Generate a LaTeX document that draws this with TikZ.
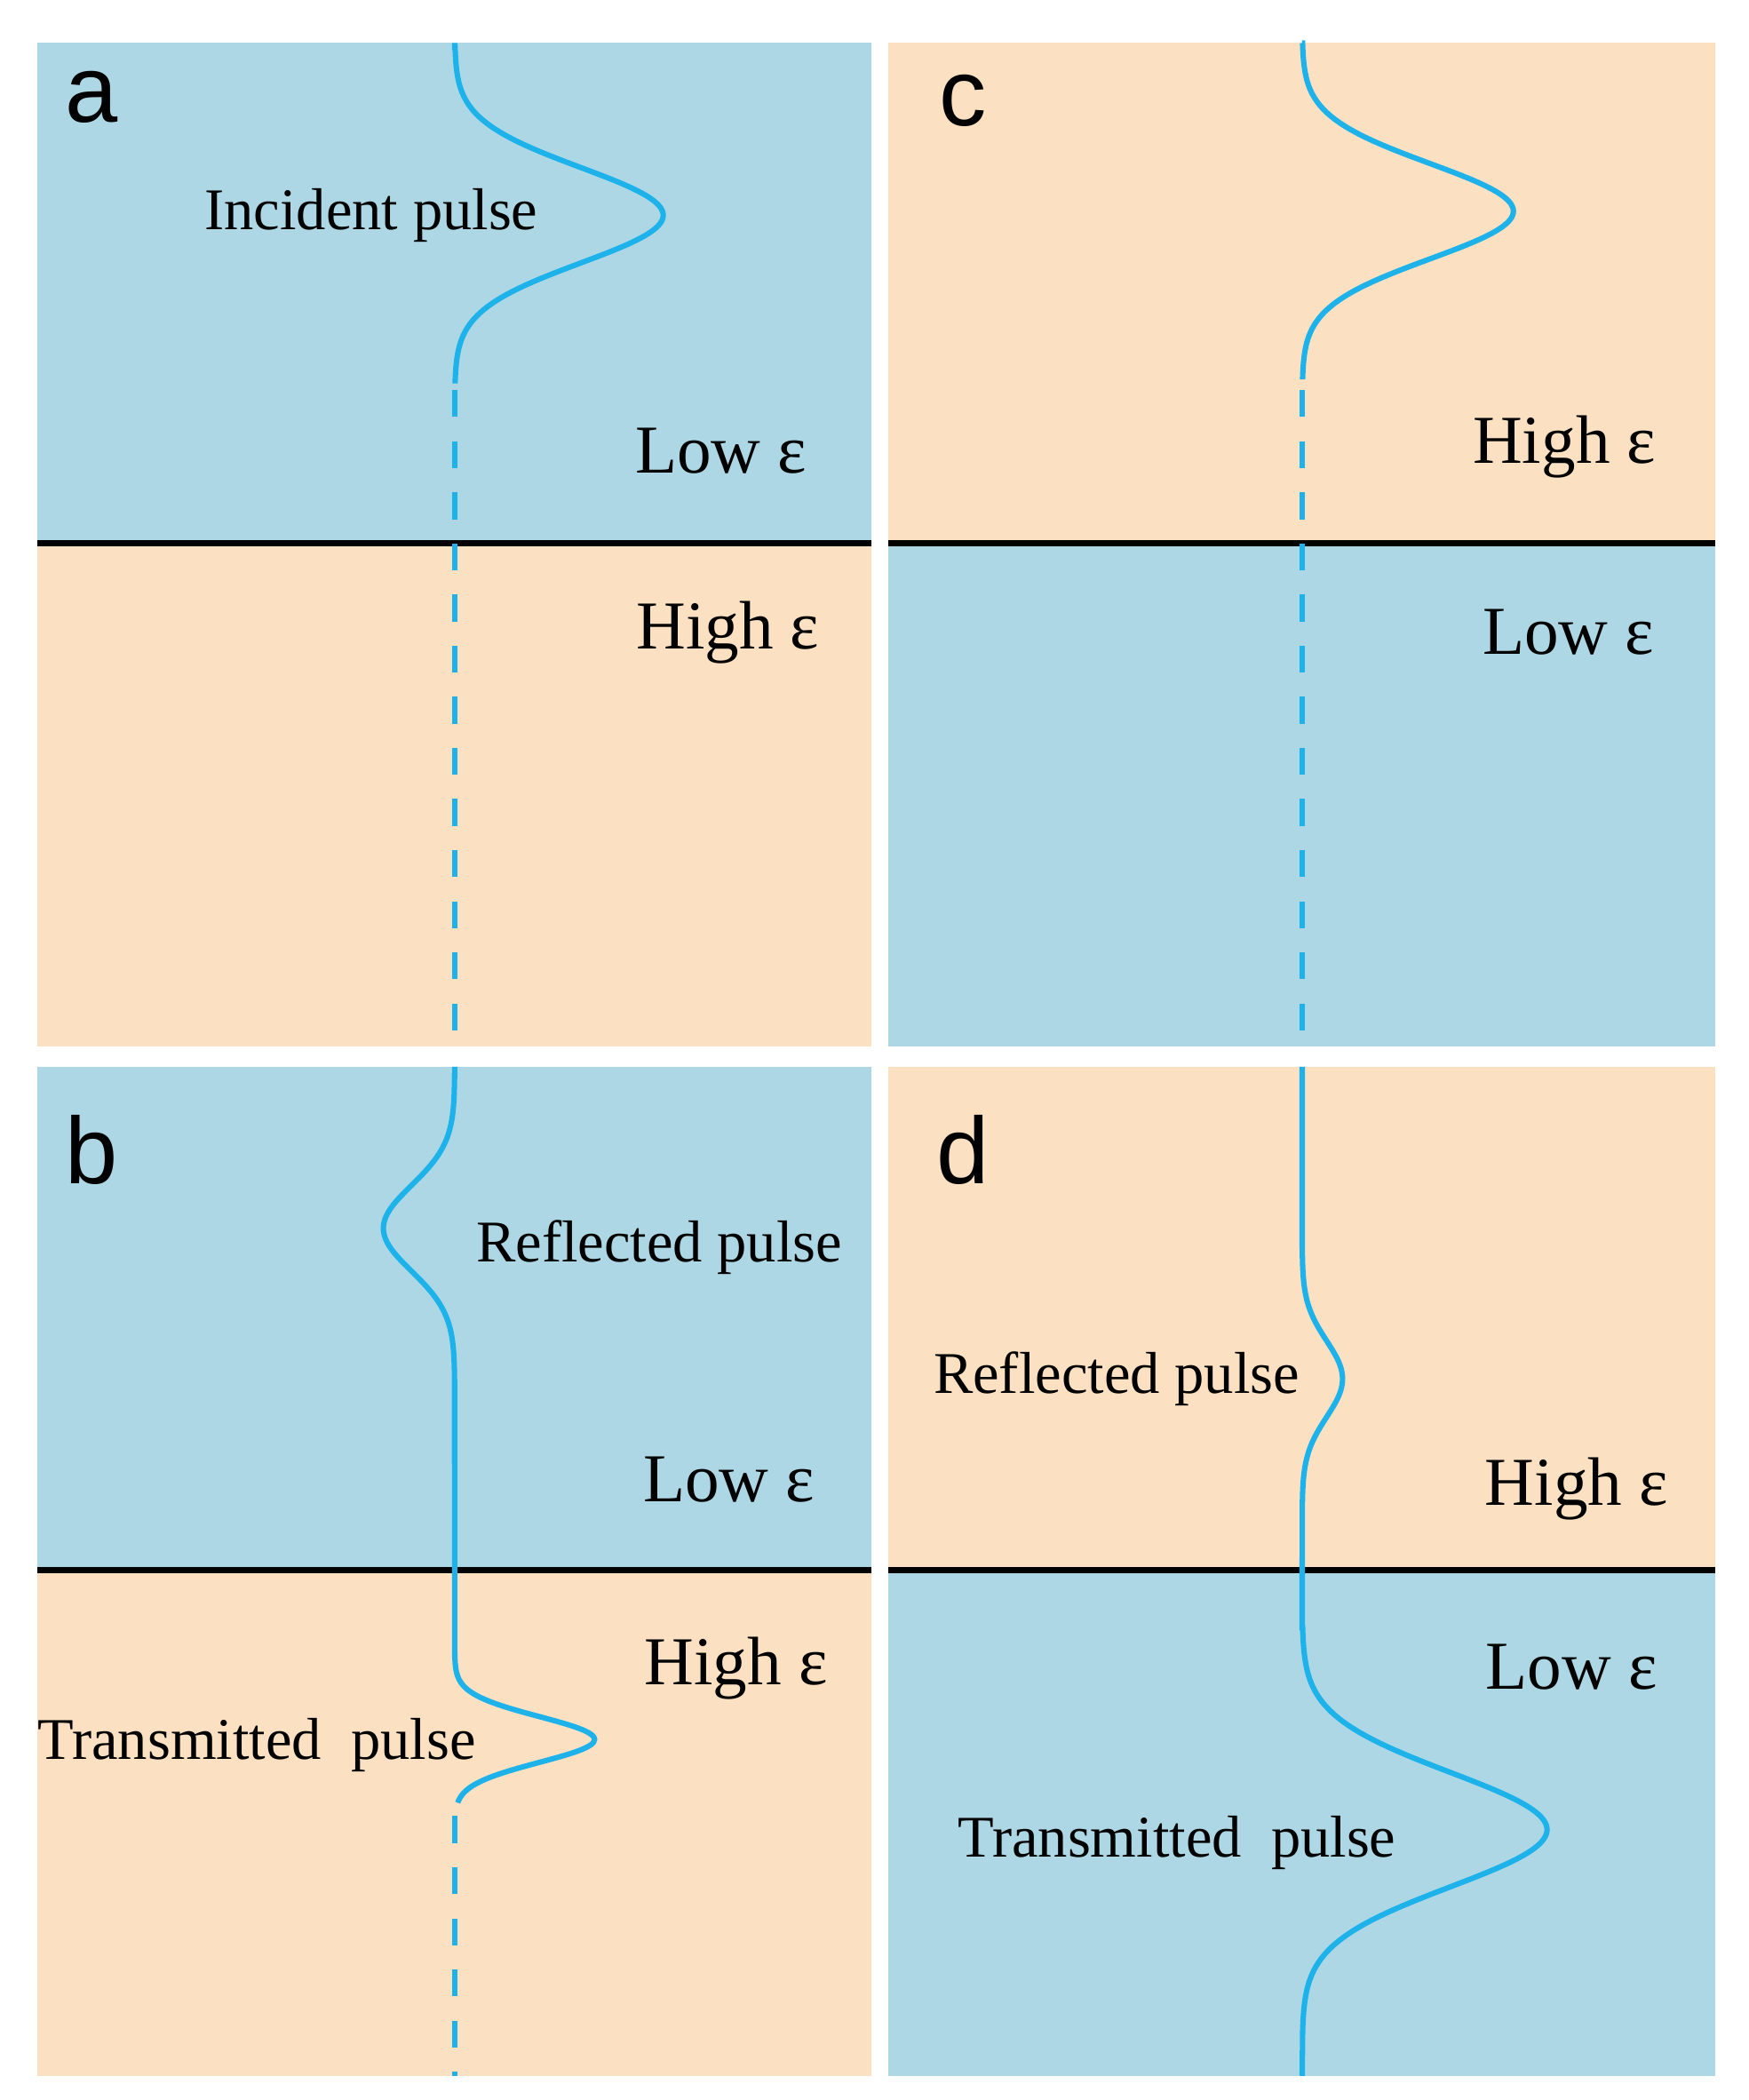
\documentclass[tikz,border=0pt]{standalone}
\usepackage{fontspec}
\setmainfont{Liberation Serif}
\newfontfamily\lblfont{Liberation Sans}
\definecolor{lowc}{RGB}{173,215,228}
\definecolor{highc}{RGB}{252,224,194}
\definecolor{pulsec}{RGB}{30,178,235}
\tikzset{
 wave/.style={pulsec,line width=0.08cm},
 wavedash/.style={pulsec,line width=0.08cm,dash pattern=on 0.4cm off 0.36cm},
 iface/.style={black,line width=0.09cm},
 eps/.style={font=\fontsize{29}{30}\selectfont},
 pl/.style={font=\fontsize{25}{26}\selectfont},
 letter/.style={font=\lblfont\fontsize{40}{40}\selectfont}
}
\begin{document}
\begin{tikzpicture}[x=0.02cm,y=-0.02cm]
\useasboundingbox (0,0) rectangle (1300,1561);
\fill[white] (0,0) rectangle (1300,1561);
% panel a
\fill[lowc] (28,32) rectangle (648,404);
\fill[highc] (28,404) rectangle (648,778);
% panel c
\fill[highc] (660,32) rectangle (1275,404);
\fill[lowc] (660,404) rectangle (1275,778);
% panel b
\fill[lowc] (28,793) rectangle (648,1167);
\fill[highc] (28,1167) rectangle (648,1543);
% panel d
\fill[highc] (660,793) rectangle (1275,1167);
\fill[lowc] (660,1167) rectangle (1275,1543);
\draw[iface] (28,404) -- (648,404);
\draw[iface] (660,404) -- (1275,404);
\draw[iface] (28,1167) -- (648,1167);
\draw[iface] (660,1167) -- (1275,1167);
% waves a
\draw[wave] (338,32) -- (338,35) -- plot[domain=35:285,samples=80,smooth] ({338+155*exp(-((\x-160)/50)^2)},\x);
\draw[wavedash] (338,290) -- (338,778);
% waves c
\draw[wave] (968,32) -- (968,32) -- plot[domain=32:282,samples=80,smooth] ({968+157*exp(-((\x-157)/50)^2)},\x);
\draw[wavedash] (968,290) -- (968,778);
% waves b
\draw[wave] (338,793) -- (338,800) -- plot[domain=800:1026,samples=70,smooth] ({338-53*exp(-((\x-913)/45)^2)},\x) -- (338,1230) -- plot[domain=1230:1340,samples=50,smooth] ({338+104*exp(-((\x-1293)/24)^2)},\x);
\draw[wavedash] (338,1350) -- (338,1543);
% waves d
\draw[wave] (968,793) -- (968,925) -- plot[domain=925:1125,samples=60,smooth] ({968+30*exp(-((\x-1025)/40)^2)},\x) -- (968,1210) -- plot[domain=1210:1510,samples=90,smooth] ({968+182*exp(-((\x-1360)/60)^2)},\x) -- (968,1543);
% labels
\node[letter] (la) at (68,72) {a};
\node[letter] (lc) at (716,75) {c};
\node[letter] (lb) at (68,855) {b};
\node[letter] (ld) at (716,855) {d};
\node[pl] (inc) at (276,160) {Incident pulse};
\node[eps] (a1) at (536,335) {Low ε};
\node[eps] (a2) at (541,470) {High ε};
\node[eps] (c1) at (1163,332) {High ε};
\node[eps] (c2) at (1166,470) {Low ε};
\node[pl] (refb) at (490,927) {Reflected pulse};
\node[eps] (b1) at (542,1100) {Low ε};
\node[eps] (b2) at (547,1240) {High ε};
\node[pl,anchor=west,inner sep=0] (trb) at (28,1297) {Transmitted\ \ pulse};
\node[pl] (refd) at (830,1025) {Reflected pulse};
\node[eps] (d1) at (1172,1107) {High ε};
\node[eps] (d2) at (1168,1239) {Low ε};
\node[pl] (trd) at (875,1370) {Transmitted\ \ pulse};
\end{tikzpicture}
\end{document}
